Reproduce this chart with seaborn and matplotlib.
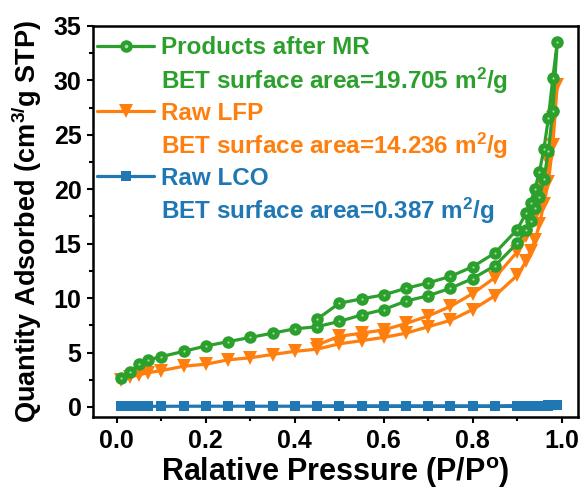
import matplotlib
matplotlib.use("Agg")
import matplotlib.pyplot as plt
from matplotlib.lines import Line2D
from matplotlib.ticker import MultipleLocator
import seaborn as sns
import pandas as pd

p_ads = [0.01, 0.03, 0.05, 0.07, 0.10, 0.15, 0.20, 0.25, 0.30, 0.35, 0.40, 0.45,
         0.50, 0.55, 0.60, 0.65, 0.70, 0.75, 0.80, 0.85, 0.90, 0.92, 0.93, 0.94,
         0.95, 0.96, 0.97, 0.98, 0.99]
p_des = [0.98, 0.97, 0.96, 0.95, 0.94, 0.93, 0.92, 0.90, 0.85, 0.80, 0.75, 0.70,
         0.65, 0.60, 0.55, 0.50, 0.45]

mr_ads = [2.65, 3.24, 3.93, 4.33, 4.62, 5.11, 5.60, 6.00, 6.39, 6.78, 7.18, 7.37,
          7.86, 8.45, 8.95, 9.73, 10.22, 10.91, 11.80, 12.98, 15.04, 16.22, 17.10, 18.28,
          19.27, 20.94, 23.49, 27.23, 33.50]
mr_des = [30.2, 26.5, 23.7, 21.6, 20.05, 18.78, 17.8, 16.3, 14.15, 12.88, 12.0, 11.4,
          10.9, 10.3, 9.93, 9.53, 8.06]

lfp_ads = [2.46, 2.75, 2.95, 3.15, 3.34, 3.74, 3.93, 4.33, 4.52, 4.82, 5.11, 5.31,
           5.80, 6.09, 6.39, 6.78, 7.37, 7.96, 8.95, 10.22, 12.09, 13.37, 14.35, 15.33,
           16.81, 18.68, 20.64, 24.08, 29.6]
lfp_des = [26.54, 22.61, 20.15, 18.58, 17.5, 16.81, 15.73, 14.25, 11.89, 10.42, 9.24, 8.36,
           7.67, 7.08, 6.78, 6.49, 5.70]

lco_ads = [0.05, 0.05, 0.06, 0.06, 0.06, 0.07, 0.07, 0.07, 0.07, 0.07, 0.07, 0.07,
           0.07, 0.07, 0.07, 0.07, 0.07, 0.07, 0.07, 0.07, 0.08, 0.08, 0.09, 0.09,
           0.10, 0.11, 0.13, 0.16, 0.22]
lco_des = [0.18, 0.14, 0.12, 0.11, 0.10, 0.09, 0.09, 0.08, 0.07, 0.07, 0.07, 0.07,
           0.07, 0.07, 0.07, 0.07, 0.07]

labels = ["Products after MR", "Raw LFP", "Raw LCO"]
bet_labels = ["BET surface area=19.705 m$^2$/g",
              "BET surface area=14.236 m$^2$/g",
              "BET surface area=0.387 m$^2$/g"]

GREEN = "#2ca02c"
ORANGE = "#ff7f0e"
BLUE = "#1f77b4"
SHINE = "#a8dca8"


def loop(ads, des):
    return pd.DataFrame({"p": p_ads + p_des, "q": ads + des})


sns.set_theme(style="ticks")
plt.rcParams["font.family"] = ["Liberation Sans", "DejaVu Sans"]
plt.rcParams["font.weight"] = "bold"
plt.rcParams["text.color"] = "black"
plt.rcParams["axes.labelcolor"] = "black"
plt.rcParams["mathtext.fontset"] = "custom"
plt.rcParams["mathtext.rm"] = "Liberation Sans:bold"
plt.rcParams["mathtext.bf"] = "Liberation Sans:bold"
plt.rcParams["mathtext.default"] = "bf"

fig = plt.figure(figsize=(5.84, 4.9), dpi=100)
ax = fig.add_axes([0.16, 0.149, 0.83, 0.798])

lw = 2.3
sns.lineplot(data=loop(lco_ads, lco_des), x="p", y="q", sort=False, estimator=None,
             color=BLUE, lw=lw, marker="s", markersize=6.5, markeredgewidth=0, ax=ax)
sns.lineplot(data=loop(lfp_ads, lfp_des), x="p", y="q", sort=False, estimator=None,
             color=ORANGE, lw=lw, marker="v", markersize=9.5, markeredgewidth=0, ax=ax)
sns.lineplot(data=loop(mr_ads, mr_des), x="p", y="q", sort=False, estimator=None,
             color=GREEN, lw=lw, marker="o", markersize=9, markeredgewidth=0,
             markerfacecolor=GREEN, ax=ax)
# glossy highlight on the green spheres
sns.scatterplot(data=loop(mr_ads, mr_des), x="p", y="q", color=SHINE, s=2.5,
                linewidth=0, ax=ax, zorder=5)

ax.set_xlim(-0.0526, 1.037)
ax.set_ylim(-0.92, 35)
ax.xaxis.set_minor_locator(MultipleLocator(0.1))
ax.yaxis.set_major_locator(MultipleLocator(5))
ax.yaxis.set_minor_locator(MultipleLocator(2.5))
ax.set_xticks([0.0, 0.2, 0.4, 0.6, 0.8, 1.0])
ax.set_xticklabels(["0.0", "0.2", "0.4", "0.6", "0.8", "1.0"])

for s in ax.spines.values():
    s.set_linewidth(1.8)
    s.set_color("black")
ax.tick_params(which="major", direction="out", length=4.5, width=1.5, pad=4,
               labelsize=18, colors="black")
ax.tick_params(which="minor", direction="out", length=3, width=1.5, colors="black")
for t in ax.get_xticklabels() + ax.get_yticklabels():
    t.set_fontweight("bold")

ax.set_xlabel("Ralative Pressure (P/P$^{o}$)", fontsize=22, fontweight="bold", labelpad=2)
ax.set_ylabel("Quantity Adsorbed (cm$^{3/}$g STP)", fontsize=19.5, fontweight="bold", labelpad=7)

blank = Line2D([], [], linestyle="none", marker=None)
h_mr = (Line2D([], [], color=GREEN, lw=lw, marker="o", markersize=9, markeredgewidth=0),
        Line2D([], [], linestyle="none", marker="o", markersize=1.6, color=SHINE))
h_lfp = Line2D([], [], color=ORANGE, lw=lw, marker="v", markersize=9.5, markeredgewidth=0)
h_lco = Line2D([], [], color=BLUE, lw=lw, marker="s", markersize=6.5, markeredgewidth=0)

leg = ax.legend(handles=[h_mr, blank, h_lfp, blank, h_lco, blank],
                labels=[labels[0], bet_labels[0], labels[1], bet_labels[1],
                        labels[2], bet_labels[2]],
                labelcolor=[GREEN, GREEN, ORANGE, ORANGE, BLUE, BLUE],
                loc="upper left", frameon=False,
                prop={"weight": "bold", "size": 17.5},
                handlelength=2.35, handletextpad=0.27, labelspacing=0.245,
                borderaxespad=0.0, bbox_to_anchor=(-0.012, 0.998))

fig.savefig("out.png", dpi=100)
